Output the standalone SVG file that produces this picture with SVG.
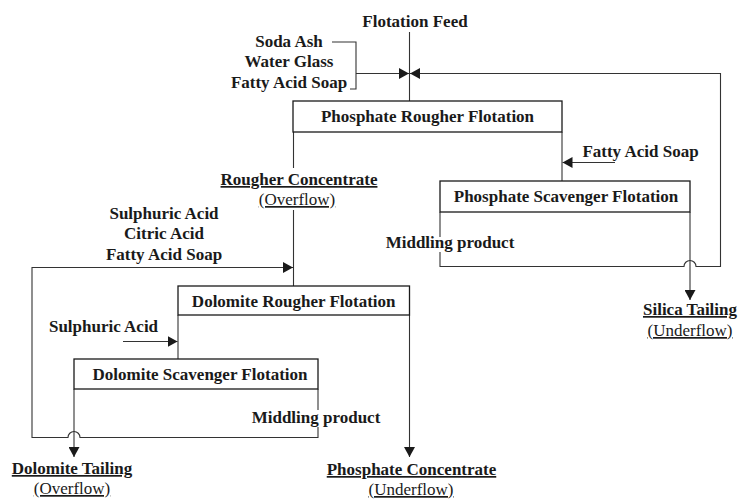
<svg xmlns="http://www.w3.org/2000/svg" width="739" height="500" viewBox="0 0 739 500">
  <defs>
    <marker id="arrow" viewBox="0 0 10 11" markerWidth="10" markerHeight="11" refX="10" refY="5.5" orient="auto" markerUnits="userSpaceOnUse">
      <path d="M0,0 L10,5.5 L0,11 z" fill="#1a1a1a"/>
    </marker>
    <style>
      .box { fill: #ffffff; stroke: #1a1a1a; stroke-width: 1.3; }
      .line { fill: none; stroke: #333333; stroke-width: 1.1; }
      .arr { marker-end: url(#arrow); }
      text { font-family: "Liberation Serif", "Times New Roman", serif; font-size: 17px; fill: #1a1a1a; }
      .b { font-weight: bold; }
      .c { text-anchor: middle; }
      .u { text-decoration: underline; }
    </style>
  </defs>
  <rect x="0" y="0" width="739" height="500" fill="#ffffff"/>

  <!-- connectors -->
  <g id="connectors">
    <!-- feed into phosphate rougher -->
    <path class="line" d="M409.5,32 V101"/>
    <!-- reagent bracket and addition arrow -->
    <path class="line" d="M332,42 H356 V89 H350"/>
    <path class="line arr" d="M356,73.5 H409"/>
    <!-- phosphate rougher to scavenger -->
    <path class="line" d="M562,132 V181"/>
    <path class="line arr" d="M615,162.5 H562.5"/>
    <!-- scavenger middlings recycled to feed, hopping the silica tailing line -->
    <path class="line" d="M440,212 V237"/>
    <path class="line arr" d="M440,252 V266.5 H684 A6,6 0 0 1 696,266.5 H720.5 V73.5 H410"/>
    <!-- silica tailing -->
    <path class="line arr" d="M690,212 V300"/>
    <!-- rougher concentrate to dolomite rougher -->
    <path class="line" d="M293.5,132 V168"/>
    <path class="line" d="M293.5,210 V286"/>
    <!-- dolomite scavenger middlings recycled, hopping the dolomite tailing line -->
    <path class="line" d="M318,389 V410"/>
    <path class="line arr" d="M318,427 V437.5 H80 A6,6 0 0 0 68,437.5 H32 V267.5 H293"/>
    <!-- dolomite rougher to scavenger -->
    <path class="line" d="M178,315 V359"/>
    <path class="line arr" d="M123,341.5 H177.5"/>
    <!-- dolomite tailing -->
    <path class="line arr" d="M74,389 V457"/>
    <!-- phosphate concentrate -->
    <path class="line arr" d="M409.5,315 V457"/>
  </g>

  <!-- nodes -->
  <g id="phosphate-rougher">
    <rect class="box" x="293" y="101" width="269" height="31"/>
    <text class="b c" x="427.5" y="122">Phosphate Rougher Flotation</text>
  </g>
  <g id="phosphate-scavenger">
    <rect class="box" x="440" y="181" width="250" height="31"/>
    <text class="b c" x="566" y="202">Phosphate Scavenger Flotation</text>
  </g>
  <g id="dolomite-rougher">
    <rect class="box" x="178" y="286" width="231.5" height="29"/>
    <text class="b c" x="293.7" y="307">Dolomite Rougher Flotation</text>
  </g>
  <g id="dolomite-scavenger">
    <rect class="box" x="74" y="359" width="244" height="30"/>
    <text class="b c" x="200" y="380">Dolomite Scavenger Flotation</text>
  </g>

  <!-- labels -->
  <g id="labels">
    <text class="b c" x="415" y="27">Flotation Feed</text>
    <text class="b c" x="289" y="47">Soda Ash</text>
    <text class="b c" x="289" y="67">Water Glass</text>
    <text class="b c" x="289" y="87.5">Fatty Acid Soap</text>
    <text class="b c" x="640.5" y="157">Fatty Acid Soap</text>
    <text class="b c" x="450" y="248">Middling product</text>
    <text class="b c u" x="690" y="315">Silica Tailing</text>
    <text class="c u" x="690" y="336">(Underflow)</text>
    <text class="b c u" x="299" y="185">Rougher Concentrate</text>
    <text class="c u" x="297" y="205">(Overflow)</text>
    <text class="b c" x="164" y="219">Sulphuric Acid</text>
    <text class="b c" x="164" y="239">Citric Acid</text>
    <text class="b c" x="164" y="260">Fatty Acid Soap</text>
    <text class="b c" x="103.5" y="332">Sulphuric Acid</text>
    <text class="b c" x="316" y="423">Middling product</text>
    <text class="b c u" x="72" y="474">Dolomite Tailing</text>
    <text class="c u" x="72" y="494">(Overflow)</text>
    <text class="b c u" x="411.5" y="475">Phosphate Concentrate</text>
    <text class="c u" x="411" y="495">(Underflow)</text>
  </g>
</svg>
